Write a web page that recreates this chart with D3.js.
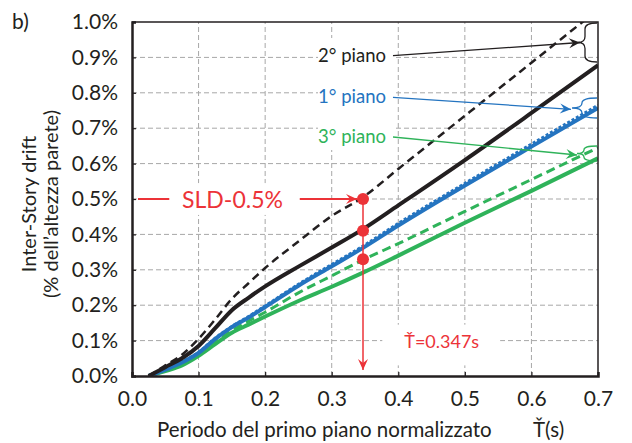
<!DOCTYPE html>
<html>
<head>
<meta charset="utf-8">
<script src="https://cdn.jsdelivr.net/npm/d3@7"></script>
<style>
	body { margin: 0; background: #fff; }
	text { font-family: Lato, "Noto Sans", sans-serif; }
</style>
</head>
<body>
<div class="chart"></div>
<script>
// periodo normalizzato (s)
var periods = [0.025, 0.05, 0.075, 0.1, 0.125, 0.15, 0.175, 0.2, 0.25, 0.3, 0.347, 0.4, 0.5, 0.6, 0.7];

// drift (%) per piano
var piano2Dashed = [0, 0.03, 0.06, 0.105, 0.16, 0.218, 0.262, 0.305, 0.38, 0.452, 0.505, 0.585, 0.735, 0.885, 1.035];
var piano2Solid  = [0, 0.025, 0.05, 0.085, 0.135, 0.186, 0.221, 0.253, 0.309, 0.363, 0.415, 0.482, 0.61, 0.743, 0.878];
var piano1Dashed = [0, 0.019, 0.04, 0.067, 0.107, 0.14, 0.168, 0.198, 0.259, 0.315, 0.367, 0.431, 0.544, 0.655, 0.765];
var piano1Solid  = [0, 0.018, 0.038, 0.065, 0.105, 0.138, 0.165, 0.195, 0.255, 0.31, 0.362, 0.425, 0.538, 0.648, 0.757];
var piano3Dashed = [0, 0.015, 0.033, 0.06, 0.095, 0.128, 0.155, 0.18, 0.235, 0.283, 0.328, 0.374, 0.465, 0.555, 0.645];
var piano3Solid  = [0, 0.014, 0.03, 0.057, 0.09, 0.122, 0.145, 0.168, 0.212, 0.252, 0.292, 0.34, 0.433, 0.523, 0.615];

var xTicks = [0, 0.1, 0.2, 0.3, 0.4, 0.5, 0.6, 0.7];
var yTicks = [0, 0.1, 0.2, 0.3, 0.4, 0.5, 0.6, 0.7, 0.8, 0.9, 1.0];

var tStar = 0.347;
var sldDots = [0.5, 0.41, 0.33];

var black = "#231f20", blue = "#2474c0", green = "#2fb35a", red = "#ec3338";

var W = 632, H = 443;
var margin = {left: 132, top: 22, right: 34, bottom: 67};

var svg = d3.select(".chart")
			.append("svg")
			.attr("width", W)
			.attr("height", H);

var x = d3.scaleLinear().domain([0, 0.7]).range([margin.left, W - margin.right]);
var y = d3.scaleLinear().domain([0, 1.0]).range([H - margin.bottom, margin.top]);

svg.append("defs").append("clipPath")
   .attr("id", "plotclip")
   .append("rect")
   .attr("x", x(0)).attr("y", y(1))
   .attr("width", x(0.7) - x(0)).attr("height", y(0) - y(1));

function arrowMarker(id, color, size) {
	svg.select("defs").append("marker")
	   .attr("id", id)
	   .attr("viewBox", "-12 -6 14 12")
	   .attr("refX", 0).attr("refY", 0)
	   .attr("markerUnits", "userSpaceOnUse")
	   .attr("markerWidth", size).attr("markerHeight", size)
	   .attr("orient", "auto")
	   .append("path")
	   .attr("d", "M0,0 L-11,-5 L-7,0 L-11,5 Z")
	   .style("fill", color);
}
arrowMarker("arrBlack", black, 14);
arrowMarker("arrBlue", blue, 14);
arrowMarker("arrGreen", green, 14);
arrowMarker("arrRed", red, 14);

// griglia
svg.append("g").selectAll("line")
   .data(xTicks.slice(1, -1))
   .enter().append("line")
   .attr("x1", function(d) { return x(d); }).attr("x2", function(d) { return x(d); })
   .attr("y1", y(0)).attr("y2", y(1))
   .style("stroke", "#a7a7a7").style("stroke-width", 1).style("stroke-dasharray", "5,3");

svg.append("g").selectAll("line")
   .data(yTicks.slice(1, -1))
   .enter().append("line")
   .attr("x1", x(0)).attr("x2", x(0.7))
   .attr("y1", function(d) { return y(d); }).attr("y2", function(d) { return y(d); })
   .style("stroke", "#a7a7a7").style("stroke-width", 1).style("stroke-dasharray", "5,3");

// fondi bianchi sotto le etichette
svg.append("rect").attr("x", 318).attr("y", 38).attr("width", 75).attr("height", 112).style("fill", "#fff");
svg.append("rect").attr("x", x(0.056)).attr("y", y(0.545)).attr("width", x(0.252) - x(0.056)).attr("height", y(0.455) - y(0.545)).style("fill", "#fff");
svg.append("rect").attr("x", x(0.376)).attr("y", y(0.145)).attr("width", x(0.553) - x(0.376)).attr("height", y(0.03) - y(0.145)).style("fill", "#fff");

// curve
var series = [
	{values: piano3Solid, color: green, width: 4, dash: null},
	{values: piano3Dashed, color: green, width: 3, dash: "9,5"},
	{values: piano1Dashed, color: blue, width: 3, dash: "3,2"},
	{values: piano1Solid, color: blue, width: 4, dash: null},
	{values: piano2Solid, color: black, width: 4, dash: null},
	{values: piano2Dashed, color: black, width: 2.5, dash: "8,5"}
];

var line = d3.line()
			 .x(function(d, i) { return x(periods[i]); })
			 .y(function(d) { return y(d); })
			 .curve(d3.curveMonotoneX);

svg.append("g")
   .attr("clip-path", "url(#plotclip)")
   .selectAll("path")
   .data(series)
   .enter().append("path")
   .attr("d", function(s) { return line(s.values); })
   .style("fill", "none")
   .style("stroke", function(s) { return s.color; })
   .style("stroke-width", function(s) { return s.width; })
   .style("stroke-dasharray", function(s) { return s.dash; });

// assi
var yAxis = d3.axisLeft(y).tickValues(yTicks).tickSize(-4).tickPadding(14)
			  .tickFormat(function(d) { return d.toFixed(1) + "%"; });
var xAxis = d3.axisBottom(x).tickValues(xTicks).tickSize(-4).tickPadding(15)
			  .tickFormat(function(d) { return d.toFixed(1); });

var gy = svg.append("g").attr("transform", "translate(" + x(0) + ",0)").call(yAxis);
var gx = svg.append("g").attr("transform", "translate(0," + y(0) + ")").call(xAxis);
[gx, gy].forEach(function(g) {
	g.select(".domain").style("stroke", black).style("stroke-width", 2.5);
	g.selectAll(".tick line").style("stroke", black).style("stroke-width", 1.2);
	g.selectAll(".tick text").style("font-size", "21px").style("fill", "#231f20")
	 .style("font-family", "Lato, sans-serif");
});

// bordo superiore e destro
svg.append("path")
   .attr("d", "M" + x(0) + "," + y(1) + "H" + x(0.7) + "V" + y(0))
   .style("fill", "none").style("stroke", black).style("stroke-width", 1.5);

// annotazioni piani
function brace(xTip, xMid, xEnd, yTop, yBot) {
	var yMid = (yTop + yBot) / 2, r = Math.min(6, (yBot - yTop) / 4);
	return "M" + xEnd + "," + yTop +
		   "Q" + xMid + "," + yTop + " " + xMid + "," + (yTop + r) +
		   "L" + xMid + "," + (yMid - r) +
		   "Q" + xMid + "," + yMid + " " + xTip + "," + yMid +
		   "Q" + xMid + "," + yMid + " " + xMid + "," + (yMid + r) +
		   "L" + xMid + "," + (yBot - r) +
		   "Q" + xMid + "," + yBot + " " + xEnd + "," + yBot;
}

var labels = [
	{text: "2° piano", color: black, ty: 61.5, ly: 55.7, tipX: 580, tipY: 42.5, marker: "arrBlack", brace: [578, 585, 597, 23, 62]},
	{text: "1° piano", color: blue, ty: 103, ly: 97.3, tipX: 571, tipY: 109.3, marker: "arrBlue", brace: [572, 582, 597, 98, 118]},
	{text: "3° piano", color: green, ty: 143, ly: 137, tipX: 577, tipY: 155, marker: "arrGreen", brace: [577, 584, 597, 146, 161]}
];

labels.forEach(function(l) {
	svg.append("text")
	   .attr("x", 386).attr("y", l.ty)
	   .attr("text-anchor", "end")
	   .style("font-size", "18.5px").style("fill", l.color)
	   .text(l.text);
	svg.append("line")
	   .attr("x1", 393).attr("y1", l.ly).attr("x2", l.tipX).attr("y2", l.tipY)
	   .attr("marker-end", "url(#" + l.marker + ")")
	   .style("stroke", l.color).style("stroke-width", 1.3);
	svg.append("path")
	   .attr("d", brace.apply(null, l.brace))
	   .style("fill", "none").style("stroke", l.color).style("stroke-width", 1.3);
});

// SLD 0.5%
svg.append("line")
   .attr("x1", x(0.009)).attr("x2", x(0.056)).attr("y1", y(0.5)).attr("y2", y(0.5))
   .style("stroke", red).style("stroke-width", 2);
svg.append("text")
   .attr("x", x(0.151)).attr("y", y(0.5))
   .attr("text-anchor", "middle").attr("dominant-baseline", "central")
   .style("font-size", "23px").style("fill", red)
   .text("SLD-0.5%");
svg.append("line")
   .attr("x1", x(0.252)).attr("x2", x(tStar) - 6).attr("y1", y(0.5)).attr("y2", y(0.5))
   .attr("marker-end", "url(#arrRed)")
   .style("stroke", red).style("stroke-width", 2);
svg.append("line")
   .attr("x1", x(tStar)).attr("x2", x(tStar)).attr("y1", y(0.5)).attr("y2", y(0.017))
   .attr("marker-end", "url(#arrRed)")
   .style("stroke", red).style("stroke-width", 1.5);
svg.append("g").selectAll("circle")
   .data(sldDots)
   .enter().append("circle")
   .attr("cx", x(tStar)).attr("cy", function(d) { return y(d); })
   .attr("r", 6)
   .style("fill", red);
svg.append("text")
   .attr("x", x(0.409)).attr("y", y(0.1))
   .attr("dominant-baseline", "central")
   .style("font-size", "18px").style("fill", red)
   .text("Ť=0.347s");

// titoli
svg.append("text")
   .attr("x", 157).attr("y", 437)
   .style("font-size", "20.5px").style("fill", black)
   .text("Periodo del primo piano normalizzato");
svg.append("text")
   .attr("x", 533).attr("y", 437)
   .style("font-size", "20.5px").style("fill", black)
   .text("Ť(s)");

svg.append("text")
   .attr("transform", "translate(28,204) rotate(-90)")
   .attr("text-anchor", "middle").attr("dominant-baseline", "central")
   .style("font-size", "20px").style("fill", black)
   .text("Inter-Story drift");
svg.append("text")
   .attr("transform", "translate(50,204) rotate(-90)")
   .attr("text-anchor", "middle").attr("dominant-baseline", "central")
   .style("font-size", "20px").style("fill", black)
   .text("(% dell’altezza parete)");

svg.append("text")
   .attr("x", 12).attr("y", 29)
   .style("font-size", "21px").style("fill", black)
   .text("b)");
</script>
</body>
</html>
